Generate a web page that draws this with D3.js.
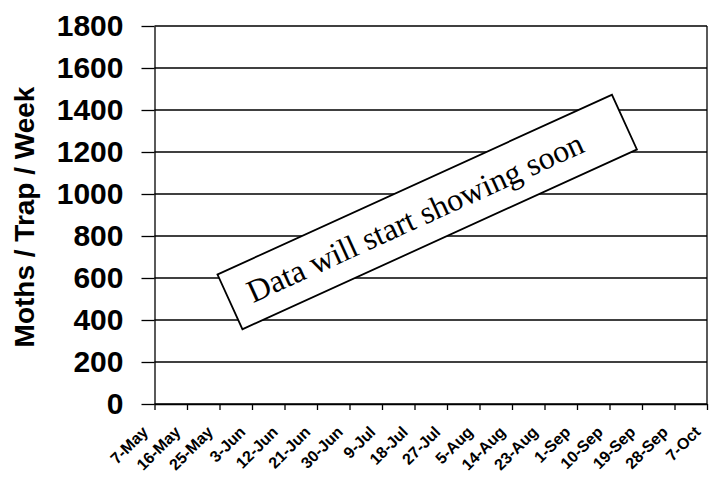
<!DOCTYPE html>
<html>
<head>
<meta charset="utf-8">
<script src="https://cdn.jsdelivr.net/npm/d3@7"></script>
<style>
  html, body { margin: 0; padding: 0; background: #fff; }
  svg { display: block; }
</style>
</head>
<body>
<svg id="chart" width="710" height="479"></svg>
<script>
// Sampling dates (every 9 days) shown along the bottom axis
const sampleDates = ["7-May", "16-May", "25-May", "3-Jun", "12-Jun", "21-Jun", "30-Jun",
  "9-Jul", "18-Jul", "27-Jul", "5-Aug", "14-Aug", "23-Aug", "1-Sep", "10-Sep",
  "19-Sep", "28-Sep", "7-Oct"];

// Weekly trap counts (none reported yet)
const trapCounts = [];

// Value axis ticks
const yTicks = [0, 200, 400, 600, 800, 1000, 1200, 1400, 1600, 1800];

const yLabel = "Moths / Trap / Week";
const notice = "Data will start showing soon";

const W = 710, H = 479;
const plot = { left: 154.5, right: 707, top: 26, bottom: 404 };
const sansBold = "'Liberation Sans', Arial, sans-serif";

const svg = d3.select("#chart");
svg.append("rect").attr("width", W).attr("height", H).attr("fill", "#fff");

const x = d3.scalePoint().domain(sampleDates).range([plot.left, plot.right]).padding(0);
const y = d3.scaleLinear().domain([0, 1800]).range([plot.bottom, plot.top]);

// Horizontal gridlines
svg.append("g")
  .selectAll("line")
  .data(yTicks)
  .join("line")
  .attr("x1", plot.left).attr("x2", plot.right)
  .attr("y1", d => y(d)).attr("y2", d => y(d))
  .attr("stroke", "#000").attr("stroke-width", 1.3);

// Right frame edge
svg.append("line")
  .attr("x1", plot.right).attr("x2", plot.right)
  .attr("y1", y(1800)).attr("y2", y(0))
  .attr("stroke", "#000").attr("stroke-width", 1.3);

// Left axis
const yAxis = svg.append("g")
  .attr("transform", `translate(${plot.left},0)`)
  .call(d3.axisLeft(y).tickValues(yTicks).tickFormat(d3.format("d"))
    .tickSize(13).tickSizeOuter(0).tickPadding(18));
yAxis.select(".domain").attr("stroke", "#000").attr("stroke-width", 1.3);
yAxis.selectAll(".tick line").attr("stroke", "#000").attr("stroke-width", 1.3);
yAxis.selectAll(".tick text")
  .attr("fill", "#000")
  .style("font-family", sansBold)
  .style("font-weight", "bold")
  .style("font-size", "30px");

// Bottom axis: ticks from the axis, labels drawn slanted below
const xAxis = svg.append("g")
  .attr("transform", `translate(0,${plot.bottom})`)
  .call(d3.axisBottom(x).tickSize(6).tickSizeOuter(0).tickFormat(""));
xAxis.select(".domain").attr("stroke", "#000").attr("stroke-width", 1.3);
xAxis.selectAll(".tick line").attr("stroke", "#000").attr("stroke-width", 1.3);

svg.append("g")
  .selectAll("text")
  .data(sampleDates)
  .join("text")
  .attr("x", d => x(d) - 5.5)
  .attr("y", plot.bottom + 29)
  .attr("transform", d => `rotate(-45 ${x(d) - 5.5} ${plot.bottom + 29})`)
  .attr("text-anchor", "end")
  .attr("fill", "#000")
  .style("font-family", sansBold)
  .style("font-weight", "bold")
  .style("font-size", "16px")
  .text(d => d);

// Weekly counts line (empty until data arrives)
svg.append("path")
  .datum(trapCounts)
  .attr("fill", "none")
  .attr("stroke", "#000")
  .attr("stroke-width", 2)
  .attr("d", d3.line().x((d, i) => x(sampleDates[i])).y(d => y(d)));

// Y-axis title
svg.append("text")
  .attr("transform", `translate(34,${(plot.top + plot.bottom) / 2 + 2}) rotate(-90)`)
  .attr("text-anchor", "middle")
  .attr("fill", "#000")
  .style("font-family", sansBold)
  .style("font-weight", "bold")
  .style("font-size", "28px")
  .text(yLabel);

// Rotated notice box
const boxW = 433.5, boxH = 60.2;
const notes = svg.append("g").attr("transform", "translate(427.2,212) rotate(-24.5)");
notes.append("rect")
  .attr("x", -boxW / 2).attr("y", -boxH / 2)
  .attr("width", boxW).attr("height", boxH)
  .attr("fill", "#fff").attr("stroke", "#000").attr("stroke-width", 1.8);
notes.append("text")
  .attr("x", -196.4).attr("y", 10.7)
  .attr("fill", "#000")
  .style("font-family", "'Liberation Serif', 'Times New Roman', serif")
  .style("font-size", "32px")
  .text(notice);
</script>
</body>
</html>
